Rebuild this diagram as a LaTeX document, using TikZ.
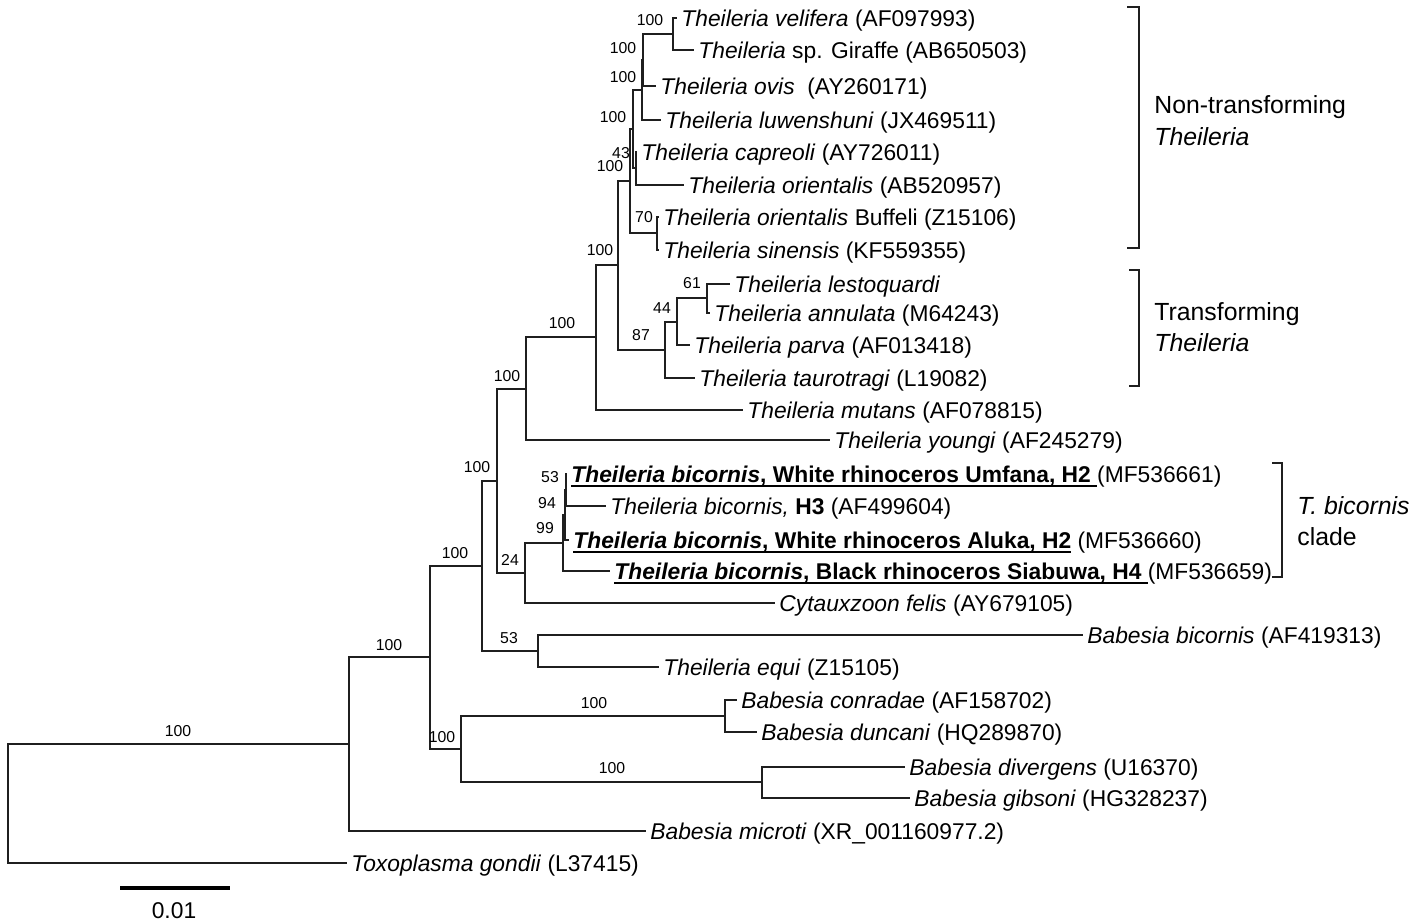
\documentclass[tikz,border=0pt]{standalone}
\usepackage{fontspec}
\setmainfont{Liberation Sans}
\newcommand\leaffont{\fontsize{11.4}{13}\selectfont}
\newcommand\bsfont{\fontsize{7.9}{9}\selectfont}
\newcommand\cladefont{\fontsize{12.4}{14}\selectfont}
\newcommand\myul[1]{\setbox0\hbox{#1}\rlap{\rule[-2.4pt]{\wd0}{0.75pt}}\box0\relax}
\tikzset{
  br/.style={line width=1pt, draw=black!88},
  leaf/.style={anchor=base west, inner sep=0pt, font=\leaffont, yshift=-4.1pt, xshift=2pt},
  bs/.style={inner sep=0pt, font=\bsfont},
  clab/.style={anchor=base west, inner sep=0pt, font=\cladefont, yshift=-4.4pt},
  brk/.style={line width=1pt, draw=black!88},
}
\begin{document}
\begin{tikzpicture}[x=0.5pt,y=-0.5pt]
\useasboundingbox (0,0) rectangle (1421,924);
% leaf tips
\coordinate (tvel) at (677,18);
\coordinate (tgir) at (694,50);
\coordinate (tovi) at (656,86);
\coordinate (tluw) at (661,120);
\coordinate (tcap) at (637,152);
\coordinate (tori) at (684,185);
\coordinate (tbuf) at (659,217);
\coordinate (tsin) at (659,250);
\coordinate (tles) at (730,284);
\coordinate (tann) at (710,313);
\coordinate (tpar) at (690,345);
\coordinate (ttau) at (695,378);
\coordinate (tmut) at (743,410);
\coordinate (tyou) at (830,440);
\coordinate (tumf) at (567,474);
\coordinate (th3) at (606,506);
\coordinate (talu) at (569,540);
\coordinate (tsia) at (610,571);
\coordinate (tcyt) at (775,603);
\coordinate (tbbi) at (1083,635);
\coordinate (tequ) at (659,667);
\coordinate (tcon) at (737,700);
\coordinate (tdun) at (757,732);
\coordinate (tdiv) at (905,767);
\coordinate (tgib) at (910,798);
\coordinate (tmic) at (646,831);
\coordinate (ttox) at (347,863);
% internal nodes
\coordinate (A1) at (673,34);
\coordinate (A2) at (643,60);
\coordinate (A3) at (642,90);
\coordinate (X) at (636,168);
\coordinate (A4) at (633,129);
\coordinate (BS) at (657,233.5);
\coordinate (N5) at (630,181);
\coordinate (T3) at (707,298.5);
\coordinate (T2) at (677,322);
\coordinate (T) at (665,350);
\coordinate (N6) at (618,265);
\coordinate (G) at (596,337.5);
\coordinate (F) at (526,389);
\coordinate (M2) at (566,490);
\coordinate (M) at (565,515);
\coordinate (L) at (563,543);
\coordinate (K) at (525,573);
\coordinate (E) at (497,481);
\coordinate (D) at (538,651);
\coordinate (C) at (482,566);
\coordinate (CD) at (725,716);
\coordinate (DG) at (762,782.5);
\coordinate (Bab) at (461,749);
\coordinate (B) at (430,657.5);
\coordinate (A) at (349,744);
\coordinate (R) at (8,803.5);
% branches
\draw[br] (A1) |- (tvel); \draw[br] (A1) |- (tgir);
\draw[br] (A2) |- (A1); \draw[br] (A2) |- (tovi);
\draw[br] (A3) |- (A2); \draw[br] (A3) |- (tluw);
\draw[br] (X) |- (tcap); \draw[br] (X) |- (tori);
\draw[br] (A4) |- (A3); \draw[br] (A4) |- (X);
\draw[br] (BS) |- (tbuf); \draw[br] (BS) |- (tsin);
\draw[br] (N5) |- (A4); \draw[br] (N5) |- (BS);
\draw[br] (T3) |- (tles); \draw[br] (T3) |- (tann);
\draw[br] (T2) |- (T3); \draw[br] (T2) |- (tpar);
\draw[br] (T) |- (T2); \draw[br] (T) |- (ttau);
\draw[br] (N6) |- (N5); \draw[br] (N6) |- (T);
\draw[br] (G) |- (N6); \draw[br] (G) |- (tmut);
\draw[br] (F) |- (G); \draw[br] (F) |- (tyou);
\draw[br] (M2) |- (tumf); \draw[br] (M2) |- (th3);
\draw[br] (M) |- (M2); \draw[br] (M) |- (talu);
\draw[br] (L) |- (M); \draw[br] (L) |- (tsia);
\draw[br] (K) |- (L); \draw[br] (K) |- (tcyt);
\draw[br] (E) |- (F); \draw[br] (E) |- (K);
\draw[br] (D) |- (tbbi); \draw[br] (D) |- (tequ);
\draw[br] (C) |- (E); \draw[br] (C) |- (D);
\draw[br] (CD) |- (tcon); \draw[br] (CD) |- (tdun);
\draw[br] (DG) |- (tdiv); \draw[br] (DG) |- (tgib);
\draw[br] (Bab) |- (CD); \draw[br] (Bab) |- (DG);
\draw[br] (B) |- (C); \draw[br] (B) |- (Bab);
\draw[br] (A) |- (B); \draw[br] (A) |- (tmic);
\draw[br] (R) |- (A); \draw[br] (R) |- (ttox);
% leaf labels
\node[leaf] (lvel) at (tvel) {\textit{Theileria velifera} (AF097993)};
\node[leaf] (lgir) at (tgir) {\textit{Theileria} sp. Giraffe (AB650503)};
\node[leaf] (lovi) at (tovi) {\textit{Theileria ovis}\ \ (AY260171)};
\node[leaf] (lluw) at (tluw) {\textit{Theileria luwenshuni} (JX469511)};
\node[leaf] (lcap) at (tcap) {\textit{Theileria capreoli} (AY726011)};
\node[leaf] (lori) at (tori) {\textit{Theileria orientalis} (AB520957)};
\node[leaf] (lbuf) at (tbuf) {\textit{Theileria orientalis} Buffeli (Z15106)};
\node[leaf] (lsin) at (tsin) {\textit{Theileria sinensis} (KF559355)};
\node[leaf] (lles) at (tles) {\textit{Theileria lestoquardi}};
\node[leaf] (lann) at (tann) {\textit{Theileria annulata} (M64243)};
\node[leaf] (lpar) at (tpar) {\textit{Theileria parva} (AF013418)};
\node[leaf] (ltau) at (ttau) {\textit{Theileria taurotragi} (L19082)};
\node[leaf] (lmut) at (tmut) {\textit{Theileria mutans} (AF078815)};
\node[leaf] (lyou) at (tyou) {\textit{Theileria youngi} (AF245279)};
\node[leaf] (lumf) at (tumf) {\myul{\textbf{\textit{Theileria bicornis}, White rhinoceros Umfana, H2}\ }(MF536661)};
\node[leaf] (lh3) at (th3) {\textit{Theileria bicornis,} \textbf{H3} (AF499604)};
\node[leaf] (lalu) at (talu) {\myul{\textbf{\textit{Theileria bicornis}, White rhinoceros Aluka, H2}}\ (MF536660)};
\node[leaf] (lsia) at (tsia) {\myul{\textbf{\textit{Theileria bicornis}, Black rhinoceros Siabuwa, H4}\ }(MF536659)};
\node[leaf] (lcyt) at (tcyt) {\textit{Cytauxzoon felis} (AY679105)};
\node[leaf] (lbbi) at (tbbi) {\textit{Babesia bicornis} (AF419313)};
\node[leaf] (lequ) at (tequ) {\textit{Theileria equi} (Z15105)};
\node[leaf] (lcon) at (tcon) {\textit{Babesia conradae} (AF158702)};
\node[leaf] (ldun) at (tdun) {\textit{Babesia duncani} (HQ289870)};
\node[leaf] (ldiv) at (tdiv) {\textit{Babesia divergens} (U16370)};
\node[leaf] (lgib) at (tgib) {\textit{Babesia gibsoni} (HG328237)};
\node[leaf] (lmic) at (tmic) {\textit{Babesia microti} (XR\_001160977.2)};
\node[leaf] (ltox) at (ttox) {\textit{Toxoplasma gondii} (L37415)};
% bootstrap values
\node[bs] (bA1) at (650,20) {100};
\node[bs] (bA2) at (623,48) {100};
\node[bs] (bA3) at (623,77) {100};
\node[bs] (bA4) at (613,117) {100};
\node[bs] (bX) at (621,153) {43};
\node[bs] (bN5) at (610,166) {100};
\node[bs] (bBS) at (644,217) {70};
\node[bs] (bN6) at (600,250) {100};
\node[bs] (bT) at (641,335) {87};
\node[bs] (bT2) at (662,308) {44};
\node[bs] (bT3) at (692,283) {61};
\node[bs] (bG) at (562,323) {100};
\node[bs] (bF) at (507,376) {100};
\node[bs] (bE) at (477,467) {100};
\node[bs] (bM2) at (550,477) {53};
\node[bs] (bM) at (547,503) {94};
\node[bs] (bL) at (545,528) {99};
\node[bs] (bK) at (510,560) {24};
\node[bs] (bC) at (455,553) {100};
\node[bs] (bD) at (509,638) {53};
\node[bs] (bB) at (389,645) {100};
\node[bs] (bBab) at (442,737) {100};
\node[bs] (bCD) at (594,703) {100};
\node[bs] (bDG) at (612,768) {100};
\node[bs] (bRA) at (178,731) {100};
% brackets
\coordinate (nt1) at (1127,7); \coordinate (nt2) at (1127,248);
\draw[brk] (nt1) -- ++(12,0) |- (nt2);
\coordinate (tr1) at (1129,270); \coordinate (tr2) at (1129,386);
\draw[brk] (tr1) -- ++(10,0) |- (tr2);
\coordinate (bc1) at (1272,463); \coordinate (bc2) at (1272,577);
\draw[brk] (bc1) -- ++(10,0) |- (bc2);
\node[clab] (cnt1) at (1154,105) {Non-transforming};
\node[clab] (cnt2) at (1154,137) {\textit{Theileria}};
\node[clab] (ctr1) at (1154,312) {Transforming};
\node[clab] (ctr2) at (1154,343) {\textit{Theileria}};
\node[clab] (cbc1) at (1297,506) {\textit{T. bicornis}};
\node[clab] (cbc2) at (1297,537) {clade};
% scale bar
\coordinate (sb1) at (120,888); \coordinate (sb2) at (230,888);
\draw[line width=2pt] (sb1) -- (sb2);
\node[inner sep=0pt, font=\leaffont] (sbl) at (174,911) {0.01};
\end{tikzpicture}
\end{document}
